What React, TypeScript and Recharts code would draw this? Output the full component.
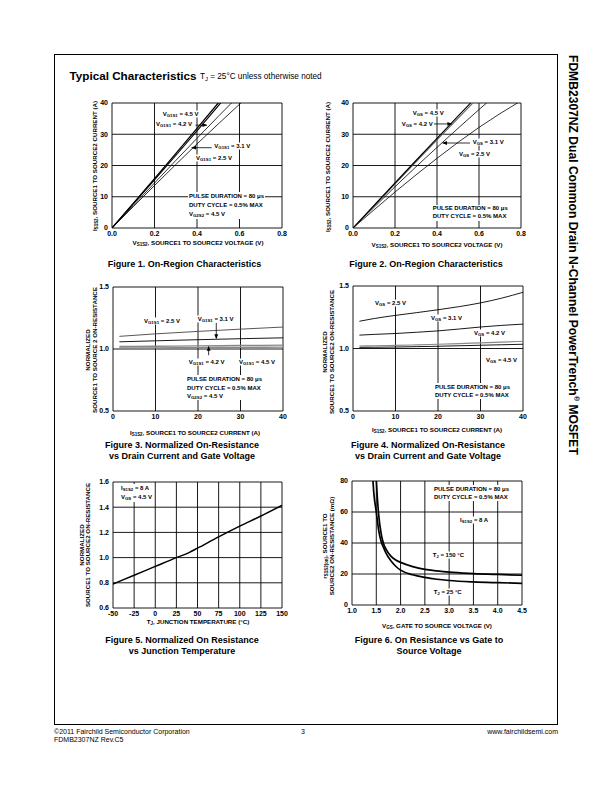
import React from 'react';
import { LineChart, Line, XAxis, YAxis, CartesianGrid, ReferenceLine } from 'recharts';

const FONT = '"Liberation Sans", Arial, Helvetica, sans-serif';

// ---------- Figure 1 ----------
const fig1V = [0, 0.1, 0.2, 0.3, 0.4, 0.5, 0.6, 0.7];
const fig1I_45 = [0, 7.9, 15.8, 23.8, 31.9, 40.0, 48.1, 56.2];
const fig1I_42 = [0, 7.7, 15.4, 23.2, 31.1, 39.1, 47.1, 55.1];
const fig1I_31 = [0, 7.2, 14.4, 21.6, 28.7, 35.7, 42.6, 49.5];
const fig1I_25 = [0, 6.8, 13.6, 20.3, 26.9, 33.3, 39.6, 45.8];
const fig1XTicks = [0, 0.2, 0.4, 0.6, 0.8];
const fig1YTicks = [0, 10, 20, 30, 40];

// ---------- Figure 2 ----------
const fig2V = [0, 0.1, 0.2, 0.3, 0.4, 0.5, 0.6, 0.7, 0.8];
const fig2I_45 = [0, 7.2, 14.4, 21.6, 28.7, 35.8, 42.8, 49.8, 56.8];
const fig2I_42 = [0, 7.0, 14.1, 21.2, 28.2, 35.1, 42.0, 48.9, 55.8];
const fig2I_31 = [0, 6.6, 13.2, 19.6, 25.8, 31.9, 37.9, 43.8, 49.6];
const fig2I_25 = [0, 5.8, 11.5, 17.0, 22.3, 27.4, 32.2, 36.6, 40.7];
const fig2XTicks = [0, 0.2, 0.4, 0.6, 0.8];
const fig2YTicks = [0, 10, 20, 30, 40];

// ---------- Figure 3 ----------
const fig3I = [1.5, 10, 20, 30, 40];
const fig3R_25 = [1.102, 1.122, 1.142, 1.16, 1.177];
const fig3R_31 = [1.058, 1.066, 1.075, 1.083, 1.09];
const fig3R_42 = [1.02, 1.022, 1.025, 1.028, 1.031];
const fig3R_45 = [1.008, 1.009, 1.011, 1.013, 1.015];
const fig3XTicks = [0, 10, 20, 30, 40];
const fig3YTicks = [0.5, 1.0, 1.5];

// ---------- Figure 4 ----------
const fig4I = [1.5, 5, 10, 15, 20, 25, 30, 35, 40];
const fig4R_25 = [1.218, 1.24, 1.265, 1.287, 1.31, 1.335, 1.365, 1.403, 1.45];
const fig4R_31 = [1.107, 1.113, 1.12, 1.13, 1.141, 1.156, 1.172, 1.185, 1.195];
const fig4R_42 = [1.02, 1.022, 1.025, 1.029, 1.034, 1.039, 1.045, 1.051, 1.058];
const fig4R_45 = [1.009, 1.01, 1.012, 1.015, 1.018, 1.022, 1.026, 1.03, 1.034];
const fig4XTicks = [0, 10, 20, 30, 40];
const fig4YTicks = [0.5, 1.0, 1.5];

// ---------- Figure 5 ----------
const fig5T = [-50, -25, 0, 25, 40, 50, 75, 100, 125, 150];
const fig5R = [0.79, 0.86, 0.93, 1.0, 1.04, 1.075, 1.165, 1.25, 1.33, 1.415];
const fig5XTicks = [-50, -25, 0, 25, 50, 75, 100, 125, 150];
const fig5YTicks = [0.6, 0.8, 1.0, 1.2, 1.4, 1.6];

// ---------- Figure 6 ----------
const fig6V25 = [1.42, 1.45, 1.5, 1.55, 1.6, 1.65, 1.7, 1.8, 1.9, 2.0, 2.25, 2.5, 2.75, 3.0, 3.5, 4.0, 4.5];
const fig6R25 = [86, 72, 60, 48, 41, 37, 33.5, 28.5, 25, 22.5, 19.5, 17.8, 16.6, 15.8, 14.9, 14.4, 14.0];
const fig6V150 = [1.495, 1.52, 1.55, 1.6, 1.65, 1.7, 1.8, 1.9, 2.0, 2.25, 2.5, 2.75, 3.0, 3.5, 4.0, 4.5];
const fig6R150 = [84, 70, 58, 46, 39.5, 36, 31.5, 29, 27.5, 24.8, 23, 22, 21.2, 20.3, 19.7, 19.2];
const fig6XTicks = [1.0, 1.5, 2.0, 2.5, 3.0, 3.5, 4.0, 4.5];
const fig6YTicks = [0, 20, 40, 60, 80];

const zip = (xs: number[], ys: number[]) => xs.map((x, i) => ({ x, y: ys[i] }));
const f1 = (v: number) => v.toFixed(1);
const f0 = (v: number) => String(v);

type Series = { data: { x: number; y: number }[]; color: string; width: number; type?: 'linear' | 'monotone' };
type Arrow = { x1: number; y1: number; x2: number; y2: number };

const ML = 40, MT = 8, MR = 10, XH = 20;
const AX = 6.2;

function Plot(props: {
  id: string; left: number; top: number; w: number; h: number;
  xDomain: [number, number]; yDomain: [number, number];
  xTicks: number[]; yTicks: number[];
  xFmt: (v: number) => string; yFmt: (v: number) => string;
  series: Series[]; arrows?: Arrow[];
}) {
  const { id, left, top, w, h, xDomain, yDomain, xTicks, yTicks, xFmt, yFmt, series, arrows = [] } = props;
  const tickStyle = { fontSize: 7, fontWeight: 'bold', fill: '#000', fontFamily: FONT } as any;
  return (
    <div style={{ position: 'absolute', left: left - ML, top: top - MT }}>
      <LineChart width={w + ML + MR} height={h + MT + XH} margin={{ top: MT, right: MR, bottom: 0, left: 0 }}>
        <defs>
          <marker id={id + '-ah'} viewBox="0 0 10 10" refX="9" refY="5" markerWidth="6" markerHeight="6" orient="auto">
            <path d="M0,1 L10,5 L0,9 z" fill="#000" />
          </marker>
        </defs>
        <CartesianGrid stroke="#000" strokeWidth={0.9} horizontalValues={yTicks} verticalValues={xTicks} />
        <XAxis type="number" dataKey="x" domain={xDomain} ticks={xTicks} interval={0} tickFormatter={xFmt}
          axisLine={false} tickLine={false} tickSize={0} tickMargin={3} height={XH} tick={tickStyle} allowDataOverflow />
        <YAxis type="number" dataKey="y" domain={yDomain} ticks={yTicks} interval={0} tickFormatter={yFmt}
          axisLine={false} tickLine={false} tickSize={0} tickMargin={4} width={ML} tick={tickStyle} allowDataOverflow />
        {series.map((s, i) => (
          <Line key={i} data={s.data} dataKey="y" type={s.type || 'linear'} stroke={s.color} strokeWidth={s.width}
            dot={false} activeDot={false} isAnimationActive={false} />
        ))}
        {arrows.map((a, i) => (
          <ReferenceLine key={'a' + i} segment={[{ x: a.x1, y: a.y1 }, { x: a.x2, y: a.y2 }]} stroke="#000"
            strokeWidth={0.8} markerEnd={`url(#${id}-ah)`} ifOverflow="visible" />
        ))}
      </LineChart>
    </div>
  );
}

const S = ({ children }: any) => (
  <sub style={{ fontSize: '0.72em', verticalAlign: '-0.3em', lineHeight: 0 }}>{children}</sub>
);

const Lbl = ({ x, y, children, size = 6 }: any) => (
  <div style={{ position: 'absolute', left: x, top: y, transform: 'translateY(-50%)', fontSize: size, fontWeight: 'bold',
    lineHeight: '7px', background: '#fff', whiteSpace: 'nowrap', padding: '0 1px' }}>{children}</div>
);

const Block = ({ x, y, lines, gap = 8.5, size = 6 }: any) => (
  <div style={{ position: 'absolute', left: x, top: y - gap / 2, fontSize: size, fontWeight: 'bold',
    lineHeight: gap + 'px', background: '#fff', whiteSpace: 'nowrap', padding: '0 1px' }}>
    {lines.map((l: any, i: number) => <div key={i}>{l}</div>)}
  </div>
);

const HTxt = ({ cx, cy, children, size = AX }: any) => (
  <div style={{ position: 'absolute', left: cx, top: cy, transform: 'translate(-50%,-50%)', fontSize: size,
    fontWeight: 'bold', whiteSpace: 'nowrap', lineHeight: 1 }}>{children}</div>
);

const VTxt = ({ cx, cy, children, size = AX }: any) => (
  <div style={{ position: 'absolute', left: cx, top: cy, transform: 'translate(-50%,-50%) rotate(-90deg)', fontSize: size,
    fontWeight: 'bold', whiteSpace: 'nowrap', lineHeight: 1 }}>{children}</div>
);

const Caption = ({ cx, y, lines }: any) => (
  <div style={{ position: 'absolute', left: cx, top: y - 5.5, transform: 'translateX(-50%)', fontSize: 9,
    fontWeight: 'bold', whiteSpace: 'nowrap', lineHeight: '11px', textAlign: 'center' }}>
    {lines.map((l: string, i: number) => <div key={i}>{l}</div>)}
  </div>
);

export default function App() {
  const pulse = 'PULSE DURATION = 80 \u03bcs';
  const duty = 'DUTY CYCLE = 0.5% MAX';
  return (
    <div style={{ position: 'absolute', left: 0, top: 0, width: 612, height: 792, background: '#fff',
      fontFamily: FONT, color: '#000', overflow: 'hidden' }}>
      {/* page frame */}
      <div style={{ position: 'absolute', left: 54, top: 54, width: 504, height: 671, border: '1px solid #000', boxSizing: 'border-box' }} />

      {/* header */}
      <div style={{ position: 'absolute', left: 69.5, top: 75.5, transform: 'translateY(-50%)', fontSize: 11.7, fontWeight: 'bold', whiteSpace: 'nowrap', lineHeight: 1 }}>
        Typical Characteristics
      </div>
      <div style={{ position: 'absolute', left: 200, top: 77, transform: 'translateY(-50%)', fontSize: 8.2, whiteSpace: 'nowrap', lineHeight: 1 }}>
        T<S>J</S> = 25°C unless otherwise noted
      </div>

      {/* side title */}
      <div style={{ position: 'absolute', left: 578.5, top: 54.5, transformOrigin: '0 0', transform: 'rotate(90deg)', fontSize: 12.1,
        fontWeight: 'bold', whiteSpace: 'nowrap', lineHeight: '12px' }}>
        FDMB2307NZ Dual Common Drain N-Channel PowerTrench<sup style={{ fontSize: '0.6em', lineHeight: 0 }}>®</sup> MOSFET
      </div>

      {/* Figure 1 */}
      <Plot id="f1" left={112} top={103} w={170} h={125} xDomain={[0, 0.8]} yDomain={[0, 40]}
        xTicks={fig1XTicks} yTicks={fig1YTicks} xFmt={f1} yFmt={f0}
        series={[
          { data: zip(fig1V, fig1I_25), color: '#000', width: 0.8 },
          { data: zip(fig1V, fig1I_31), color: '#000', width: 0.8 },
          { data: zip(fig1V, fig1I_42), color: '#000', width: 1.1 },
          { data: zip(fig1V, fig1I_45), color: '#000', width: 1.3 },
        ]}
        arrows={[{ x1: 0.393, y1: 32.9, x2: 0.446, y2: 32.9 }, { x1: 0.469, y1: 25.7, x2: 0.375, y2: 25.7 }]} />
      <Lbl x={161.7} y={114}>V<S>G1S1</S> = 4.5 V</Lbl>
      <Lbl x={155} y={124.3}>V<S>G1S1</S> = 4.2 V</Lbl>
      <Lbl x={213.3} y={146}>V<S>G1S1</S> = 3.1 V</Lbl>
      <Lbl x={195} y={157.7}>V<S>G1S1</S> = 2.5 V</Lbl>
      <Block x={188} y={196.7} gap={8.8} lines={[pulse, duty, <span>V<S>G2S2</S> = 4.5 V</span>]} />
      <VTxt cx={95} cy={166}>I<S>S1S2</S>, SOURCE1 TO SOURCE2 CURRENT (A)</VTxt>
      <HTxt cx={198} cy={243.3}>V<S>S1S2</S>, SOURCE1 TO SOURCE2 VOLTAGE (V)</HTxt>
      <Caption cx={184.5} y={264.5} lines={['Figure 1.  On-Region Characteristics']} />

      {/* Figure 2 */}
      <Plot id="f2" left={353} top={103} w={168} h={125} xDomain={[0, 0.8]} yDomain={[0, 40]}
        xTicks={fig2XTicks} yTicks={fig2YTicks} xFmt={f1} yFmt={f0}
        series={[
          { data: zip(fig2V, fig2I_25), color: '#000', width: 0.8 },
          { data: zip(fig2V, fig2I_31), color: '#000', width: 0.8 },
          { data: zip(fig2V, fig2I_42), color: '#666', width: 1.1 },
          { data: zip(fig2V, fig2I_45), color: '#000', width: 1.1 },
        ]}
        arrows={[{ x1: 0.351, y1: 33.3, x2: 0.47, y2: 33.3 }, { x1: 0.557, y1: 27.2, x2: 0.427, y2: 27.2 }]} />
      <Lbl x={411.7} y={112.7}>V<S>GS</S> = 4.5 V</Lbl>
      <Lbl x={400.7} y={124.3}>V<S>GS</S> = 4.2 V</Lbl>
      <Lbl x={471.7} y={142.3}>V<S>GS</S> = 3.1 V</Lbl>
      <Lbl x={458} y={154.3}>V<S>GS</S> = 2.5 V</Lbl>
      <Block x={431.7} y={209} gap={7.7} lines={[pulse, duty]} />
      <VTxt cx={328} cy={166.7}>I<S>S1S2</S>, SOURCE1 TO SOURCE2 CURRENT (A)</VTxt>
      <HTxt cx={437} cy={245}>V<S>S1S2</S>, SOURCE1 TO SOURCE2 VOLTAGE (V)</HTxt>
      <Caption cx={426} y={264.5} lines={['Figure 2. On-Region Characteristics']} />

      {/* Figure 3 */}
      <Plot id="f3" left={113} top={287} w={170} h={124} xDomain={[0, 40]} yDomain={[0.5, 1.5]}
        xTicks={fig3XTicks} yTicks={fig3YTicks} xFmt={f0} yFmt={f1}
        series={[
          { data: zip(fig3I, fig3R_25), color: '#444', width: 0.9, type: 'monotone' },
          { data: zip(fig3I, fig3R_31), color: '#000', width: 0.9, type: 'monotone' },
          { data: zip(fig3I, fig3R_42), color: '#888', width: 1.4, type: 'monotone' },
          { data: zip(fig3I, fig3R_45), color: '#888', width: 1.4, type: 'monotone' },
        ]}
        arrows={[{ x1: 24.3, y1: 1.212, x2: 24.3, y2: 1.085 }, { x1: 22.5, y1: 0.95, x2: 22.5, y2: 1.02 }]} />
      <Lbl x={143} y={320.7}>V<S>G1S1</S> = 2.5 V</Lbl>
      <Lbl x={196.7} y={318.7}>V<S>G1S1</S> = 3.1 V</Lbl>
      <Lbl x={187.7} y={361.7}>V<S>G1S1</S> = 4.2 V</Lbl>
      <Lbl x={238} y={361.7}>V<S>G1S1</S> = 4.5 V</Lbl>
      <Block x={186} y={379.3} gap={8.4} lines={[pulse, duty, <span>V<S>G2S2</S> = 4.5 V</span>]} />
      <VTxt cx={88.3} cy={350}>NORMALIZED</VTxt>
      <VTxt cx={95} cy={350}>SOURCE1 TO SOURCE 2 ON-RESISTANCE</VTxt>
      <HTxt cx={195} cy={432.7}>I<S>S1S2</S>, SOURCE1 TO SOURCE2 CURRENT (A)</HTxt>
      <Caption cx={182} y={445.7} lines={['Figure 3. Normalized On-Resistance', 'vs Drain Current and Gate Voltage']} />

      {/* Figure 4 */}
      <Plot id="f4" left={353} top={286} w={170} h={125} xDomain={[0, 40]} yDomain={[0.5, 1.5]}
        xTicks={fig4XTicks} yTicks={fig4YTicks} xFmt={f0} yFmt={f1}
        series={[
          { data: zip(fig4I, fig4R_25), color: '#000', width: 0.9, type: 'monotone' },
          { data: zip(fig4I, fig4R_31), color: '#000', width: 0.9, type: 'monotone' },
          { data: zip(fig4I, fig4R_42), color: '#888', width: 1.2, type: 'monotone' },
          { data: zip(fig4I, fig4R_45), color: '#000', width: 0.9, type: 'monotone' },
        ]} />
      <Lbl x={374} y={302.7}>V<S>GS</S> = 2.5 V</Lbl>
      <Lbl x={430} y={318}>V<S>GS</S> = 3.1 V</Lbl>
      <Lbl x={473} y={332.7}>V<S>GS</S> = 4.2 V</Lbl>
      <Lbl x={485} y={360}>V<S>GS</S> = 4.5 V</Lbl>
      <Block x={434} y={386.7} gap={8.3} lines={[pulse, duty]} />
      <VTxt cx={325} cy={351.7}>NORMALIZED</VTxt>
      <VTxt cx={331.7} cy={351.7}>SOURCE1 TO SOURCE2 ON-RESISTANCE</VTxt>
      <HTxt cx={437} cy={430}>I<S>S1S2</S>, SOURCE1 TO SOURCE2 CURRENT (A)</HTxt>
      <Caption cx={428} y={445.7} lines={['Figure 4. Normalized On-Resistance', 'vs Drain Current and Gate Voltage']} />

      {/* Figure 5 */}
      <Plot id="f5" left={113} top={482} w={169} h={126} xDomain={[-50, 150]} yDomain={[0.6, 1.6]}
        xTicks={fig5XTicks} yTicks={fig5YTicks} xFmt={f0} yFmt={f1}
        series={[{ data: zip(fig5T, fig5R), color: '#000', width: 1.5, type: 'monotone' }]} />
      <Block x={120} y={488.3} gap={9.4} lines={[<span>I<S>S1S2</S> = 8 A</span>, <span>V<S>GS</S> = 4.5 V</span>]} />
      <VTxt cx={81.7} cy={545}>NORMALIZED</VTxt>
      <VTxt cx={88.3} cy={545}>SOURCE1 TO SOURCE2 ON-RESISTANCE</VTxt>
      <HTxt cx={198} cy={621.7}>T<S>J</S>, JUNCTION TEMPERATURE (°C)</HTxt>
      <Caption cx={182} y={640.7} lines={['Figure 5. Normalized On Resistance', 'vs Junction Temperature']} />

      {/* Figure 6 */}
      <Plot id="f6" left={352} top={481} w={170} h={124} xDomain={[1.0, 4.5]} yDomain={[0, 80]}
        xTicks={fig6XTicks} yTicks={fig6YTicks} xFmt={f1} yFmt={f0}
        series={[
          { data: zip(fig6V25, fig6R25), color: '#000', width: 1.7, type: 'monotone' },
          { data: zip(fig6V150, fig6R150), color: '#000', width: 1.7, type: 'monotone' },
        ]} />
      <Block x={433} y={489} gap={8.3} lines={[pulse, duty]} />
      <Lbl x={459} y={520}>I<S>S1S2</S> = 8 A</Lbl>
      <Lbl x={431.7} y={555}>T<S>J</S> = 150 °C</Lbl>
      <Lbl x={432.7} y={591.7}>T<S>J</S> = 25 °C</Lbl>
      <VTxt cx={325} cy={546}>r<S>S1S2(on)</S>, SOURCE1 TO</VTxt>
      <VTxt cx={331.7} cy={546}>SOURCE2 ON-RESISTANCE (m&Omega;)</VTxt>
      <HTxt cx={437} cy={625.7}>V<S>GS</S>, GATE TO SOURCE VOLTAGE (V)</HTxt>
      <Caption cx={429} y={640.7} lines={['Figure 6.  On Resistance vs Gate to', 'Source Voltage']} />

      {/* footer */}
      <div style={{ position: 'absolute', left: 54, top: 730.5, transform: 'translateY(-50%)', fontSize: 7, whiteSpace: 'nowrap', lineHeight: 1 }}>
        ©2011 Fairchild Semiconductor Corporation
      </div>
      <div style={{ position: 'absolute', left: 54, top: 739, transform: 'translateY(-50%)', fontSize: 7, whiteSpace: 'nowrap', lineHeight: 1 }}>
        FDMB2307NZ Rev.C5
      </div>
      <div style={{ position: 'absolute', left: 303, top: 730.5, transform: 'translate(-50%,-50%)', fontSize: 7, lineHeight: 1 }}>3</div>
      <div style={{ position: 'absolute', right: 612 - 558, top: 730.5, transform: 'translateY(-50%)', fontSize: 7, whiteSpace: 'nowrap', lineHeight: 1 }}>
        www.fairchildsemi.com
      </div>
    </div>
  );
}
